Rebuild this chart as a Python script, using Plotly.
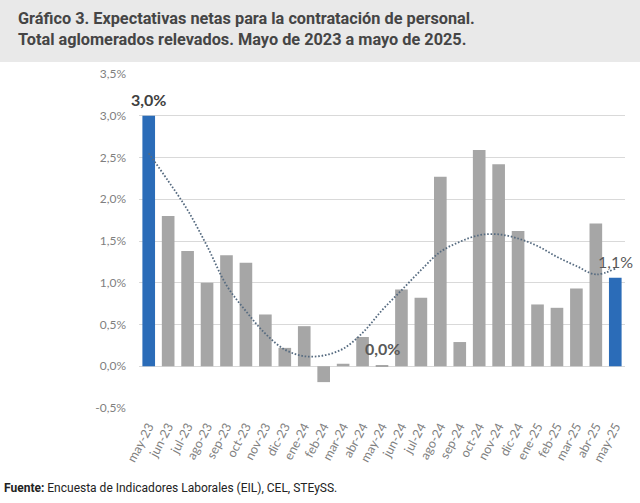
import plotly.graph_objects as go

categories = ["may-23", "jun-23", "jul-23", "ago-23", "sep-23", "oct-23", "nov-23", "dic-23",
              "ene-24", "feb-24", "mar-24", "abr-24", "may-24", "jun-24", "jul-24", "ago-24",
              "sep-24", "oct-24", "nov-24", "dic-24", "ene-25", "feb-25", "mar-25", "abr-25", "may-25"]
values = [3.0, 1.8, 1.38, 1.0, 1.33, 1.24, 0.62, 0.22, 0.48, -0.19, 0.03, 0.35, 0.01,
          0.92, 0.82, 2.27, 0.29, 2.59, 2.42, 1.62, 0.74, 0.70, 0.93, 1.71, 1.06]
trend = [2.55, 2.22, 1.87, 1.44, 0.97, 0.66, 0.39, 0.20, 0.12, 0.13, 0.21, 0.40, 0.67,
         0.91, 1.15, 1.37, 1.49, 1.57, 1.58, 1.53, 1.44, 1.31, 1.20, 1.10, 1.17]
highlight_idx = [0, 24]
label_idx = [0, 12, 24]
label_text = ["3,0%", "0,0%", "1,1%"]
label_bold = [True, True, False]
y_tick_vals = [-0.5, 0.0, 0.5, 1.0, 1.5, 2.0, 2.5, 3.0, 3.5]
y_tick_text = ["-0,5%", "0,0%", "0,5%", "1,0%", "1,5%", "2,0%", "2,5%", "3,0%", "3,5%"]

W, H = 640, 503
ML, MR, MT, MB = 139, 15, 74, 95
PW = W - ML - MR
PH = H - MT - MB

BLUE = "#2b6cb8"
GRAY = "#a6a6a6"

colors = [BLUE if i in highlight_idx else GRAY for i in range(len(categories))]

fig = go.Figure()
fig.add_trace(go.Bar(x=categories, y=values, marker=dict(color=colors, line=dict(width=0)),
                     hoverinfo="skip", showlegend=False))
fig.add_trace(go.Scatter(x=categories, y=trend, mode="lines",
                         line=dict(color="#566b80", width=1.8, dash="1.6px,1.8px", shape="spline"),
                         hoverinfo="skip", showlegend=False))

def px_to_paper_y(py):
    return (MT + PH - py) / PH

def px_to_paper_x(px):
    return (px - ML) / PW

annotations = []
for i, t, b in zip(label_idx, label_text, label_bold):
    annotations.append(dict(
        x=categories[i], y=values[i], xref="x", yref="y", text=t, showarrow=False,
        yanchor="bottom", yshift=5,
        font=dict(family="Lato", size=16, color="#404040" if i == 0 else "#595959",
                  weight="bold" if b else "normal")))

annotations.append(dict(
    x=px_to_paper_x(16), y=px_to_paper_y(7), xref="paper", yref="paper",
    xanchor="left", yanchor="top", align="left", showarrow=False,
    text="Gráfico 3. Expectativas netas para la contratación de personal.<br>Total aglomerados relevados. Mayo de 2023 a mayo de 2025.",
    font=dict(family="Roboto", size=16.3, color="#454545", weight="bold")))

annotations.append(dict(
    x=px_to_paper_x(2), y=px_to_paper_y(488), xref="paper", yref="paper",
    xanchor="left", yanchor="middle", showarrow=False,
    text="<b>Fuente:</b> Encuesta de Indicadores Laborales (EIL), CEL, STEySS.",
    font=dict(family="Roboto", size=12, color="#222222")))

fig.update_layout(
    width=W, height=H,
    margin=dict(l=ML, r=MR, t=MT, b=MB, autoexpand=False),
    paper_bgcolor="white", plot_bgcolor="white",
    bargap=0.35,
    shapes=[dict(type="rect", xref="paper", yref="paper",
                 x0=-ML / PW, x1=1 + MR / PW, y0=px_to_paper_y(62), y1=px_to_paper_y(0),
                 fillcolor="#e9e9e9", line=dict(width=0), layer="below")],
    annotations=annotations,
    xaxis=dict(type="category", range=[-0.5, len(categories) - 0.5],
               tickangle=-62, showgrid=False, showline=False, ticks="",
               automargin=False,
               tickfont=dict(family="Lato", size=12.5, color="#7f7f7f"),
               ticklabelstandoff=8),
    yaxis=dict(range=[-0.5, 3.5], tickvals=y_tick_vals, ticktext=y_tick_text,
               automargin=False,
               showgrid=True, gridcolor="#d9d9d9", gridwidth=1,
               zeroline=True, zerolinecolor="#d9d9d9", zerolinewidth=1,
               showline=False, ticks="",
               tickfont=dict(family="Lato", size=12, color="#7f7f7f"),
               ticklabelstandoff=12),
)

fig.write_html("out.html", config={"displayModeBar": False},
               post_script="document.body.style.margin='0';document.body.style.padding='0';")
